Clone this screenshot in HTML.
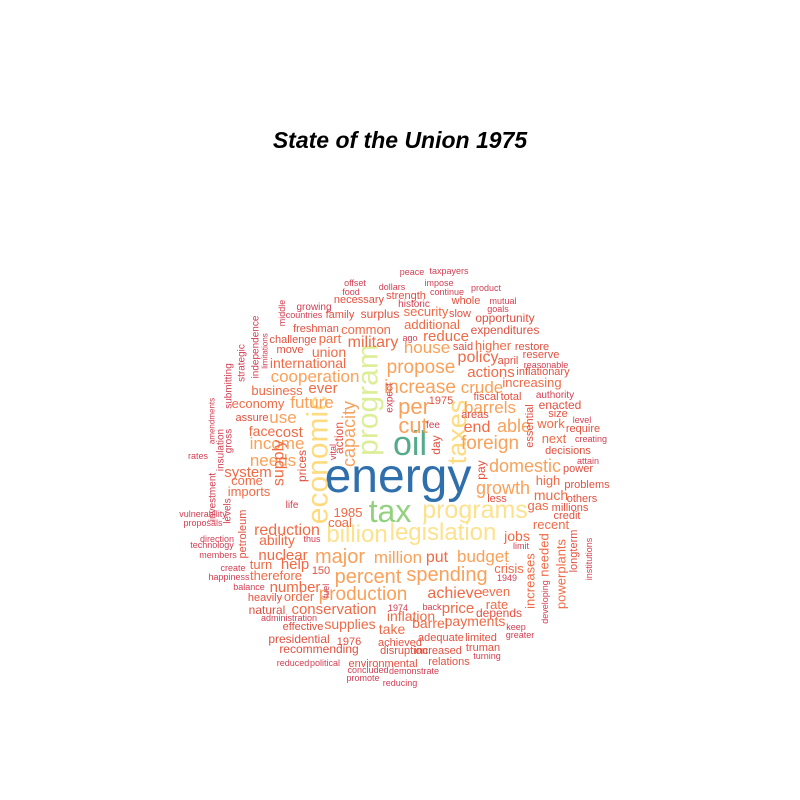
<!DOCTYPE html>
<html><head><meta charset="utf-8"><style>
html,body{margin:0;padding:0;background:#fff;}
svg{display:block;font-family:"Liberation Sans",Arial,sans-serif;}
</style></head><body>
<svg id="chart" width="800" height="800" viewBox="0 0 800 800">
<rect width="800" height="800" fill="#fff"/>
<text x="400" y="148" text-anchor="middle" font-size="23" font-weight="bold" font-style="italic" fill="#000">State of the Union 1975</text>
<g id="cloud"></g>
</svg>
<script>
// word frequencies (font size is proportional to frequency)
const words = ["energy","oil","tax","program","economic","taxes","programs","legislation","billion","capacity",
"percent","spending","major","million","put","budget","production","domestic","growth","foreign",
"end","able","barrels","crude","increase","per","cut","propose","1975","fee",
"day","pay","expect","vital","action","offset","food","necessary","dollars","growing",
"middle","countries","family","surplus","strength","historic","freshman","common","independence","limitations",
"challenge","part","military","move","union","strategic","international","submitting","cooperation","business",
"ever","economy","future","amendments","assure","use","insulation","gross","face","cost",
"income","rates","needs","system","investment","supply","prices","come","imports","life",
"vulnerability","proposals","levels","petroleum","reduction","1985","coal","direction","technology","ability",
"thus","members","nuclear","turn","help","create","150","happiness","therefore","balance",
"number","fuel","heavily","order","natural","conservation","administration","effective","supplies","presidential",
"1976","recommending","reduced","political","environmental","concluded","promote","demonstrate","reducing","take",
"achieved","disruption","1974","inflation","achieve","back","price","rate","even","depends",
"barrel","payments","keep","adequate","limited","greater","increased","truman","turning","relations",
"jobs","limit","crisis","1949","increases","needed","developing","powerplants","longterm","institutions",
"high","problems","less","much","others","gas","millions","credit","recent","peace",
"taxpayers","impose","continue","product","whole","mutual","goals","security","slow","opportunity",
"additional","expenditures","ago","reduce","house","said","higher","restore","policy","april",
"reserve","reasonable","inflationary","actions","increasing","fiscal","total","authority","essential","enacted",
"areas","size","level","work","require","creating","next","decisions","attain","power"];
const freqs = [48,34,32,30,30,27,25,24,24,18,
20,20,20,17,16,17,19,18,18,19,
16,18,17,17,19,22,22,19,11,10,
12,12,10,9,12,9,9,11,9,10,
9,9,11,12,11,10,11,13,10,8,
11,13,16,11,14,10,14,10,17,13,
15,13,17,8,11,17,10,10,14,15,
17,9,17,15,10,16,12,13,13,10,
9,9,10,11,16,13,13,9,9,14,
9,9,15,13,15,9,11,9,13,9,
15,9,11,13,12,15,9,11,14,12,
11,12,9,9,11,9,9,9,9,14,
11,11,9,14,16,9,15,13,13,12,
14,14,9,11,11,9,11,11,9,11,
14,9,13,9,13,13,9,13,11,9,
13,11,11,14,11,13,11,11,13,9,
9,9,9,9,11,9,9,13,11,12,
13,12,9,15,17,11,13,11,16,11,
11,9,11,15,13,11,11,10,11,12,
11,11,9,13,11,9,13,11,9,11];
const colorsByWord = {energy:"#2f6fac",oil:"#52ab89",tax:"#94d17f",program:"#dcee98",economic:"#fddb7e",taxes:"#fddb80",programs:"#fde28e",legislation:"#fde28e",billion:"#fde28e"};
</script>
<script>
// layout produced by the cloud placement (x, y, rotated?)
const layout = [[398,492,0],[410,455,0],[390,522,0],[368,400,1],[318,460,1],[457,432,1],[475,518,0],[443,540,0],[357,542,0],[349,434,1],
[368,583,0],[447,581,0],[340,563,0],[398,563,0],[437,562,0],[483,562,0],[363,600,0],[525,472,0],[503,494,0],[490,449,0],
[477,432,0],[514,432,0],[490,413,0],[482,393,0],[420,393,0],[414,414,0],[413,433,0],[421,373,0],[441,404,0],[433,428,0],
[436,445,1],[481,470,1],[390,398,1],[333,452,1],[339,438,1],[355,286,0],[351,295,0],[359,303,0],[392,290,0],[314,310,0],
[282,313,1],[304,318,0],[340,318,0],[380,318,0],[406,299,0],[414,307,0],[316,332,0],[366,334,0],[256,347,1],[265,351,1],
[293,343,0],[330,343,0],[373,347,0],[290,353,0],[329,357,0],[242,363,1],[308,368,0],[229,386,1],[315,382,0],[277,395,0],
[323,393,0],[258,408,0],[312,408,0],[212,421,1],[252,421,0],[283,423,0],[221,450,1],[229,441,1],[262,436,0],[289,437,0],
[277,449,0],[198,459,0],[273,466,0],[248,477,0],[213,497,1],[279,463,1],[302,466,1],[247,485,0],[249,496,0],[292,508,0],
[203,517,0],[203,526,0],[228,511,1],[243,534,1],[287,535,0],[348,517,0],[340,527,0],[217,542,0],[212,548,0],[277,545,0],
[312,542,0],[218,558,0],[283,560,0],[261,569,0],[295,569,0],[233,571,0],[321,574,0],[229,580,0],[276,580,0],[249,590,0],
[295,592,0],[326,591,1],[265,601,0],[299,601,0],[267,614,0],[334,614,0],[289,621,0],[303,630,0],[350,629,0],[299,643,0],
[349,645,0],[319,653,0],[293,666,0],[325,666,0],[383,667,0],[368,673,0],[363,681,0],[414,674,0],[400,686,0],[392,634,0],
[400,646,0],[404,654,0],[398,611,0],[411,621,0],[455,598,0],[432,610,0],[458,613,0],[497,609,0],[496,596,0],[499,617,0],
[430,628,0],[475,626,0],[516,630,0],[441,641,0],[481,641,0],[520,638,0],[438,654,0],[483,651,0],[487,659,0],[449,665,0],
[517,541,0],[521,549,0],[509,573,0],[507,581,0],[530,581,1],[544,555,1],[545,602,1],[561,574,1],[574,551,1],[589,559,1],
[548,485,0],[587,488,0],[497,502,0],[551,500,0],[582,502,0],[538,510,0],[570,511,0],[567,519,0],[551,529,0],[412,275,0],
[449,274,0],[439,286,0],[447,295,0],[486,291,0],[466,304,0],[503,304,0],[498,312,0],[426,316,0],[460,317,0],[505,322,0],
[432,329,0],[505,334,0],[410,341,0],[446,341,0],[427,353,0],[463,350,0],[493,350,0],[532,350,0],[478,362,0],[508,364,0],
[541,358,0],[546,368,0],[543,375,0],[491,377,0],[532,387,0],[486,400,0],[511,400,0],[555,398,0],[530,426,1],[560,409,0],
[475,418,0],[558,417,0],[582,423,0],[551,428,0],[583,432,0],[591,442,0],[554,443,0],[568,454,0],[588,464,0],[578,472,0]];

function sizeScale(f){ return f * 1.0; }
function colorScale(w,f){
  if (colorsByWord[w]) return colorsByWord[w];
  if (f >= 17) return "#f9a15a";
  if (f >= 13) return "#f06a45";
  if (f >= 11) return "#e2503f";
  return "#d23e52";
}
const g = document.getElementById('cloud');
const NS = "http://www.w3.org/2000/svg";
words.forEach((w,i)=>{
  const f = freqs[i], p = layout[i];
  const s = sizeScale(f);
  const t = document.createElementNS(NS,'text');
  t.textContent = w;
  t.setAttribute('font-size', s);
  t.setAttribute('fill', colorScale(w,f));
  t.setAttribute('text-anchor','middle');
  t.setAttribute('x', p[0]); t.setAttribute('y', p[1]);
  if (p[2]) {
    t.setAttribute('dominant-baseline','central');
    t.setAttribute('transform', 'rotate(-90 '+p[0]+' '+p[1]+')');
  }
  
  
  g.appendChild(t);
});
</script>
</body></html>
